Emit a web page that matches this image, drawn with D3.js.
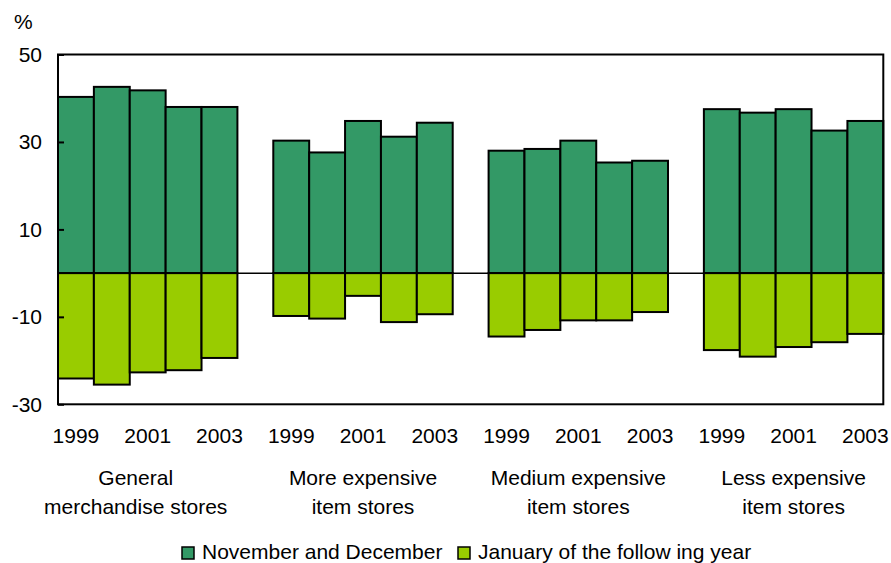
<!DOCTYPE html>
<html>
<head>
<meta charset="utf-8">
<script src="https://cdn.jsdelivr.net/npm/d3@7"></script>
<style>
  html, body { margin: 0; padding: 0; background: #fff; }
  svg { display: block; font-family: Arial, "Liberation Sans", sans-serif; }
</style>
</head>
<body>
<svg id="chart" width="891" height="563"></svg>
<script>
const categories = ["General merchandise stores", "More expensive item stores", "Medium expensive item stores", "Less expensive item stores"];
const categoryLines = [["General", "merchandise stores"], ["More expensive", "item stores"], ["Medium expensive", "item stores"], ["Less expensive", "item stores"]];
const years = ["1999", "2000", "2001", "2002", "2003"];
const yearTickLabels = ["1999", "2001", "2003"];
const seriesNames = ["November and December", "January of the follow ing year"];
const novDec = [
  [40.3, 42.6, 41.8, 38.0, 38.0],
  [30.3, 27.6, 34.8, 31.2, 34.4],
  [28.0, 28.4, 30.3, 25.3, 25.7],
  [37.5, 36.7, 37.5, 32.6, 34.8]
];
const january = [
  [-24.1, -25.5, -22.7, -22.2, -19.4],
  [-9.8, -10.4, -5.2, -11.2, -9.4],
  [-14.5, -13.0, -10.8, -10.8, -8.9],
  [-17.6, -19.1, -16.9, -15.8, -13.9]
];
const yTicks = [50, 30, 10, -10, -30];
const colors = ["#339966", "#99cc00"];

const FS = 21;
const svg = d3.select("#chart");
const plotLeft = 58, plotRight = 883.3, plotTop = 54.5, plotBottom = 404.3;

const x0 = d3.scaleBand().domain(categories).range([plotLeft, plotRight]).paddingInner(1/6).paddingOuter(0);
const x1 = d3.scaleBand().domain(years).range([0, x0.bandwidth()]).padding(0);
const y = d3.scaleLinear().domain([-30, 50]).range([plotBottom, plotTop]);

const rows = [];
categories.forEach((c, ci) => {
  years.forEach((yr, yi) => {
    rows.push({cat: c, year: yr, s: 0, v: novDec[ci][yi]});
    rows.push({cat: c, year: yr, s: 1, v: january[ci][yi]});
  });
});

// bars
svg.append("g").selectAll("rect").data(rows).join("rect")
  .attr("x", d => x0(d.cat) + x1(d.year))
  .attr("width", x1.bandwidth())
  .attr("y", d => y(Math.max(0, d.v)))
  .attr("height", d => Math.abs(y(d.v) - y(0)))
  .attr("fill", d => colors[d.s])
  .attr("stroke", "#000")
  .attr("stroke-width", 2);

// zero line
svg.append("line")
  .attr("x1", plotLeft).attr("x2", plotRight)
  .attr("y1", y(0)).attr("y2", y(0))
  .attr("stroke", "#000").attr("stroke-width", 1.5);

// frame
svg.append("rect")
  .attr("x", plotLeft).attr("y", plotTop)
  .attr("width", plotRight - plotLeft).attr("height", plotBottom - plotTop)
  .attr("fill", "none").attr("stroke", "#000").attr("stroke-width", 2);

// y axis ticks & labels
const yAxis = d3.axisLeft(y).tickValues(yTicks).tickSize(-6).tickPadding(16).tickFormat(d => String(d));
const gy = svg.append("g").attr("transform", `translate(${plotLeft},0)`).call(yAxis);
gy.select(".domain").remove();
gy.selectAll(".tick line").attr("stroke", "#000").attr("stroke-width", 2);
gy.selectAll(".tick text").attr("font-size", FS).attr("fill", "#000")
  .attr("font-family", "Arial, 'Liberation Sans', sans-serif");

svg.append("text").attr("x", 14).attr("y", 29).attr("font-size", FS).text("%");

// year labels
categories.forEach(c => {
  yearTickLabels.forEach(yr => {
    svg.append("text")
      .attr("x", x0(c) + x1(yr) + x1.bandwidth() / 2)
      .attr("y", 443)
      .attr("text-anchor", "middle")
      .attr("font-size", FS)
      .text(yr);
  });
});

// category labels
categories.forEach((c, ci) => {
  const cx = x0(c) + x0.bandwidth() / 2 + (ci === 0 ? -12 : 0);
  categoryLines[ci].forEach((line, li) => {
    svg.append("text")
      .attr("x", cx)
      .attr("y", 485 + li * 29)
      .attr("text-anchor", "middle")
      .attr("font-size", FS)
      .text(line);
  });
});

// legend
const legendX = [182, 458];
seriesNames.forEach((name, i) => {
  svg.append("rect")
    .attr("x", legendX[i]).attr("y", 547)
    .attr("width", 12).attr("height", 12)
    .attr("fill", colors[i]).attr("stroke", "#000").attr("stroke-width", 1.5);
  svg.append("text")
    .attr("x", legendX[i] + 20).attr("y", 559)
    .attr("font-size", FS)
    .text(name);
});
</script>
</body>
</html>
